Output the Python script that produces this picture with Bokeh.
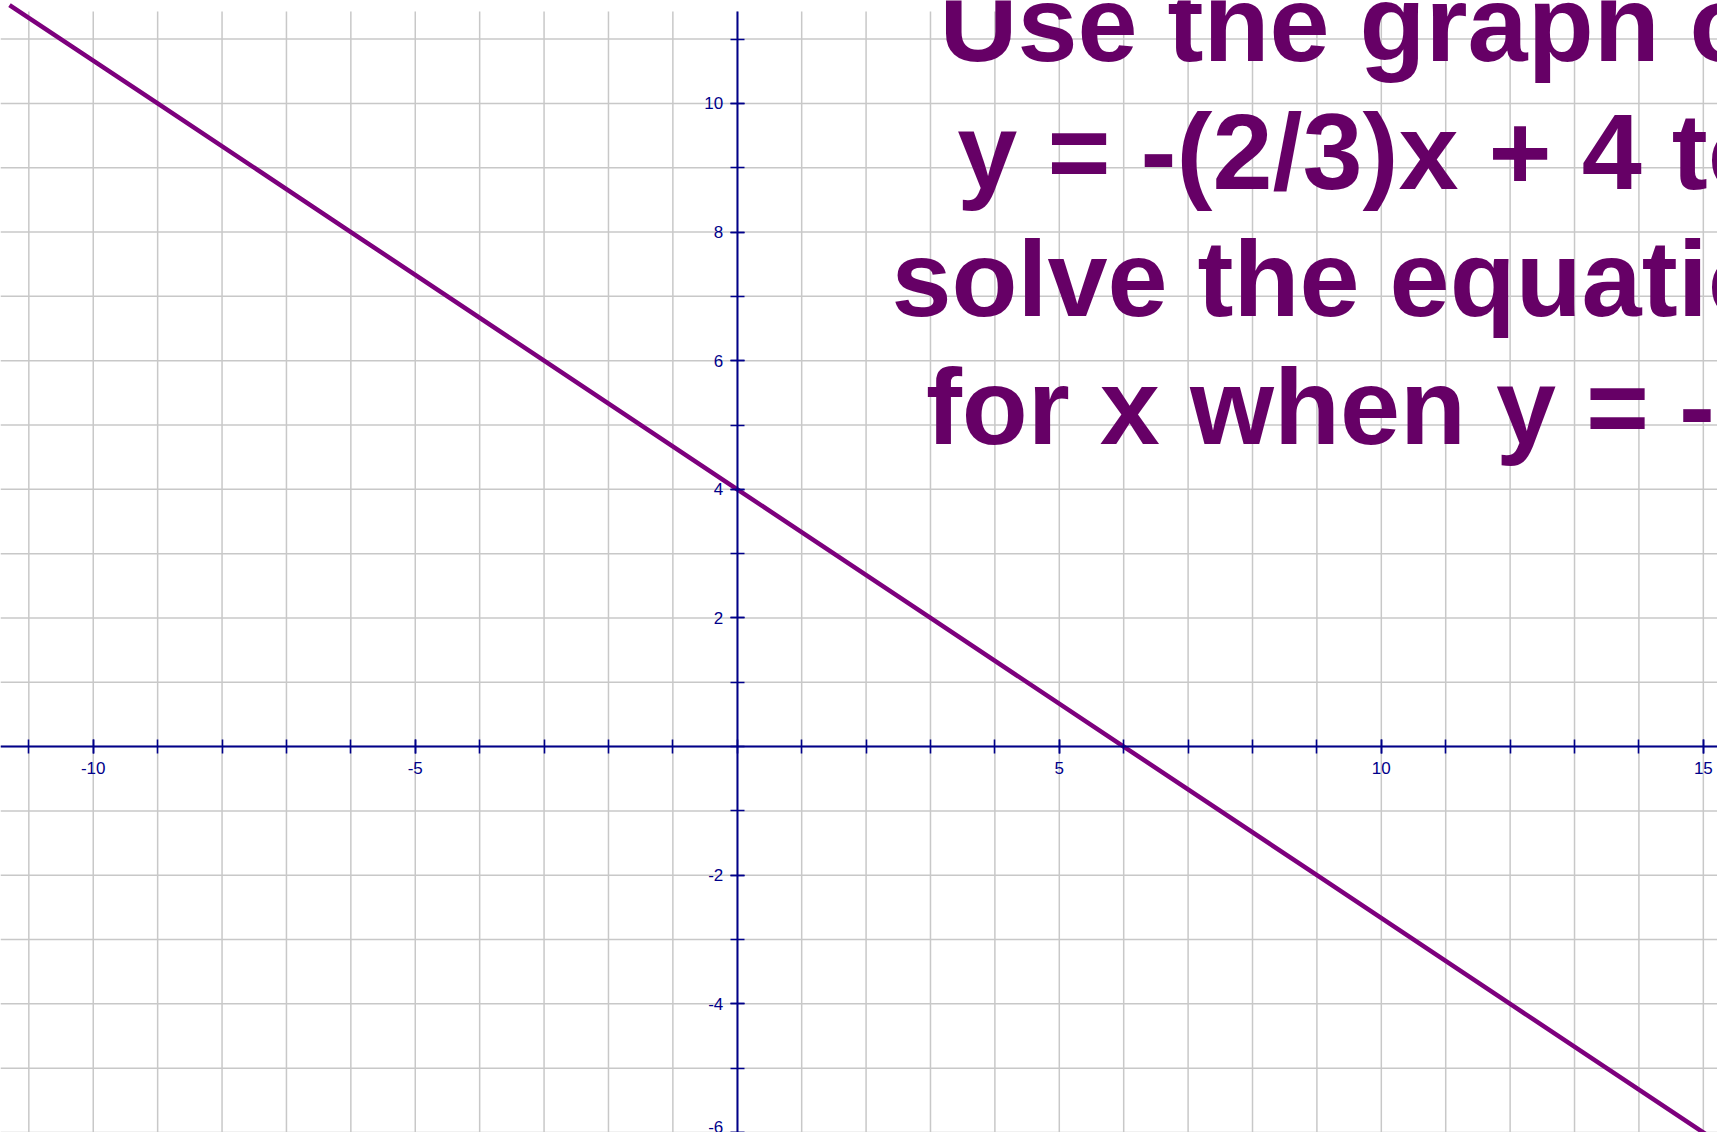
import numpy as np
from bokeh.plotting import figure
from bokeh.models import LinearAxis, FixedTicker, Label, Range1d
from bokeh.embed import file_html
from bokeh.resources import INLINE

# Points on the line y = -(2/3)x + 4, read at grid crossings
line_x = [-11.3, -9, -6, -3, 0, 3, 6, 9, 12, 15.3]
line_y = [11.53, 10, 8, 6, 4, 2, 0, -2, -4, -6.2]

# Labelled ticks and unit ticks
x_major = [-10, -5, 5, 10, 15]
y_major = [-6, -4, -2, 2, 4, 6, 8, 10]
x_minor = list(range(-11, 16))
y_minor = list(range(-6, 12))

title_lines = [
    "Use the graph of",
    "y = -(2/3)x + 4 to",
    "solve the equation",
    "for x when y = -2.",
]

X0, X1 = -11.44, 15.22
Y0, Y1 = -6.0, 11.6
GRID_TOP = 11.43

W, H = 1717, 1132
NAVY = "#00008a"
GRID = "#c8c8c8"
PURPLE = "#660066"

p = figure(
    width=W, height=H,
    x_range=Range1d(X0, X1), y_range=Range1d(Y0, Y1),
    x_axis_location=None, y_axis_location=None,
    toolbar_location=None, output_backend="svg",
    min_border=0, outline_line_color=None,
    background_fill_color="white", border_fill_color="white",
)
p.grid.visible = False

# unit grid
gx = np.array(x_minor, dtype=float)
gy = np.array(y_minor, dtype=float)
p.segment(x0=gx, y0=np.full_like(gx, Y0), x1=gx, y1=np.full_like(gx, GRID_TOP),
          line_color=GRID, line_width=1.5)
p.segment(x0=np.full_like(gy, X0), y0=gy, x1=np.full_like(gy, X1), y1=gy,
          line_color=GRID, line_width=1.5)

axis_style = dict(
    axis_line_color=NAVY, axis_line_width=2,
    major_tick_line_color=NAVY, minor_tick_line_color=NAVY,
    major_tick_line_width=1.6, minor_tick_line_width=1.6,
    major_tick_in=7, major_tick_out=7, minor_tick_in=7, minor_tick_out=7,
    major_label_text_color=NAVY, major_label_text_font="Liberation Sans",
    major_label_text_font_size="17px",
)

# plain hyphen-minus labels
x_labels = {float(v): str(v) for v in x_major}
y_labels = {float(v): str(v) for v in y_major}

xaxis = LinearAxis(fixed_location=0, ticker=FixedTicker(ticks=x_major, minor_ticks=x_minor),
                   bounds=(X0, X1), major_label_standoff=8,
                   major_label_overrides=x_labels, **axis_style)
yaxis = LinearAxis(fixed_location=0, ticker=FixedTicker(ticks=y_major, minor_ticks=y_minor),
                   bounds=(Y0, GRID_TOP), major_label_standoff=7,
                   major_label_overrides=y_labels, **axis_style)
p.add_layout(xaxis, "below")
p.add_layout(yaxis, "left")

p.line(line_x, line_y, line_color="#7d007d", line_width=4.5)

# title block, centred lines
for i, txt in enumerate(title_lines):
    baseline_from_top = 23 + i * 127.7
    p.add_layout(Label(
        x=1365, y=H - baseline_from_top, x_units="screen", y_units="screen",
        text=txt, text_align="center", text_baseline="alphabetic",
        text_font="Liberation Sans", text_font_style="bold",
        text_font_size="108px", text_color=PURPLE,
    ))

open("out.html", "w").write(file_html(p, INLINE))
